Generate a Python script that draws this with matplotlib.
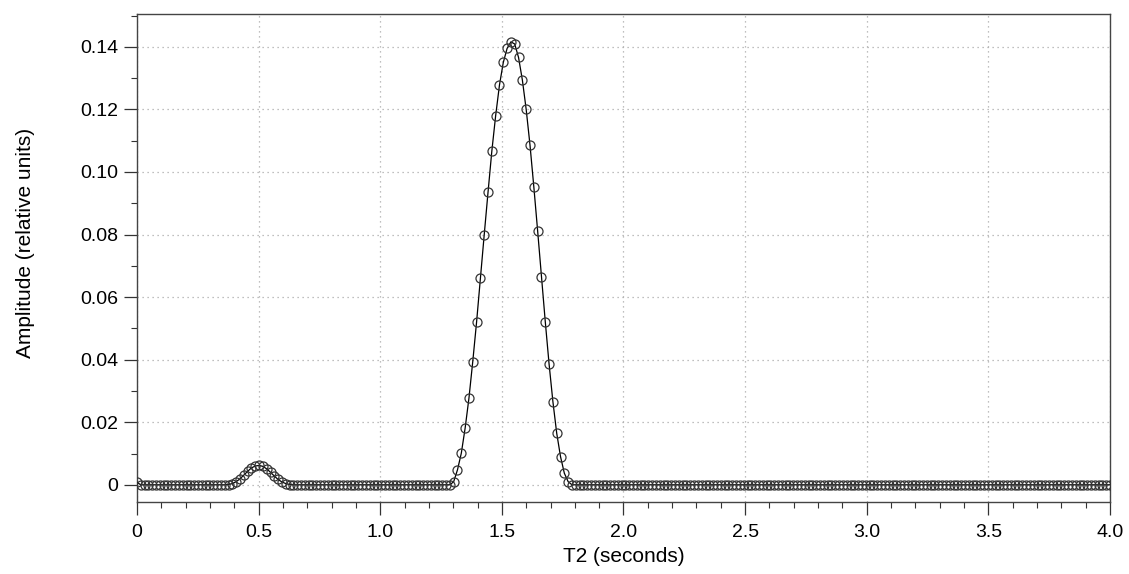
import numpy as np
import matplotlib
matplotlib.use("Agg")
import matplotlib.pyplot as plt
from matplotlib.ticker import MultipleLocator, FixedLocator

plt.rcParams['font.family'] = ['Liberation Sans', 'DejaVu Sans']

# T2 grid: 256 evenly spaced samples from 0 to 4 s
N_POINTS = 256
T2_MAX = 4.0

# amplitudes (index -> value); all other samples sit at 0
start_amp = {0: 0.0008}
small_peak = {
    24: 0.0001, 25: 0.0004, 26: 0.0010, 27: 0.0019, 28: 0.0031, 29: 0.0043,
    30: 0.0054, 31: 0.0060, 32: 0.0062, 33: 0.0059, 34: 0.0051, 35: 0.0040,
    36: 0.0028, 37: 0.0017, 38: 0.0009, 39: 0.0004, 40: 0.0001,
}
main_peak = {
    83: 0.0010, 84: 0.0048, 85: 0.0101, 86: 0.0181, 87: 0.0277, 88: 0.0394,
    89: 0.0520, 90: 0.0660, 91: 0.0799, 92: 0.0935, 93: 0.1067, 94: 0.1180,
    95: 0.1278, 96: 0.1350, 97: 0.1395, 98: 0.1416, 99: 0.1409, 100: 0.1366,
    101: 0.1294, 102: 0.1200, 103: 0.1086, 104: 0.0953, 105: 0.0812,
    106: 0.0665, 107: 0.0522, 108: 0.0386, 109: 0.0266, 110: 0.0165,
    111: 0.0090, 112: 0.0037, 113: 0.0010,
}

x_ticks = [0, 0.5, 1.0, 1.5, 2.0, 2.5, 3.0, 3.5, 4.0]
x_tick_labels = ['0', '0.5', '1.0', '1.5', '2.0', '2.5', '3.0', '3.5', '4.0']
y_ticks = [0, 0.02, 0.04, 0.06, 0.08, 0.10, 0.12, 0.14]
y_tick_labels = ['0', '0.02', '0.04', '0.06', '0.08', '0.10', '0.12', '0.14']

t2 = np.linspace(0, T2_MAX, N_POINTS)
amp = np.zeros(N_POINTS)
for d in (start_amp, small_peak, main_peak):
    for i, v in d.items():
        amp[i] = v

fig = plt.figure(figsize=(11.29, 5.74), dpi=100)
ax = fig.add_axes([0.1213, 0.1254, 0.8619, 0.8502])

ax.plot(t2, amp, color='black', linewidth=0.9, zorder=3)
ax.plot(t2, amp, linestyle='none', marker='o', markersize=6.5,
        markerfacecolor='none', markeredgecolor='#333333',
        markeredgewidth=0.9, zorder=4)

ax.set_xlim(0, 4.0)
ax.set_ylim(-0.0055, 0.1505)

ax.xaxis.set_major_locator(FixedLocator(x_ticks))
ax.set_xticklabels(x_tick_labels)
ax.xaxis.set_minor_locator(MultipleLocator(0.1))
ax.yaxis.set_major_locator(FixedLocator(y_ticks))
ax.set_yticklabels(y_tick_labels)
ax.yaxis.set_minor_locator(MultipleLocator(0.01))

ax.tick_params(axis='both', which='major', direction='out', length=9.5,
               width=0.9, color='#333333', labelsize=14)
ax.tick_params(axis='x', which='major', pad=6)
ax.tick_params(axis='y', which='major', pad=4)
ax.tick_params(axis='both', which='minor', direction='out', length=4.5,
               width=0.8, color='#333333')

ax.grid(True, which='major', linestyle=(0, (1, 3)), color='#aaaaaa', linewidth=0.9)

for s in ax.spines.values():
    s.set_color('#444444')
    s.set_linewidth(1.0)

ax.set_xlabel('T2 (seconds)', fontsize=15)
ax.set_ylabel('Amplitude (relative units)', fontsize=15)
ax.xaxis.set_label_coords(0.5, -0.093)
ax.yaxis.set_label_coords(-0.105, 0.53)

fig.savefig('out.png', dpi=100, facecolor='white')
